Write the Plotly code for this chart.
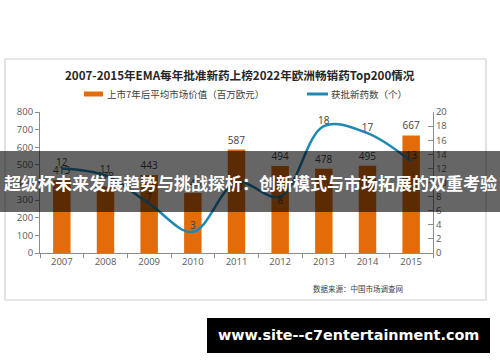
import plotly.graph_objects as go

years = ["2007", "2008", "2009", "2010", "2011", "2012", "2013", "2014", "2015"]
market_value = [413, 378, 443, 340, 587, 494, 478, 495, 667]
new_drugs = [12, 11, 7, 3, 10, 8, 18, 17, 13]
line_label_pos = ["top center", "top center", "top center", "top center", "bottom center",
                  "bottom center", "top center", "top center", "top center"]

title_text = "2007-2015年EMA每年批准新药上榜2022年欧洲畅销药Top200情况"
legend_bar = "上市7年后平均市场价值（百万欧元）"
legend_line = "获批新药数（个）"
source_text = "数据来源：中国市场调查网"
banner_text = "超级杯未来发展趋势与挑战探析：创新模式与市场拓展的双重考验"
site_text = "www.site--c7entertainment.com"

ORANGE = "#E36C0A"
BLUE = "#1F88B3"
TXT = "#404040"
AX = "#8C8C8C"
CJK = "Noto Sans CJK SC"

fig = go.Figure()
fig.add_trace(go.Bar(
    x=years, y=market_value, marker=dict(color=ORANGE, line=dict(width=0)),
    text=[str(v) for v in market_value], textposition="outside",
    textfont=dict(size=10, color=TXT, family="Open Sans"),
    cliponaxis=False, showlegend=False, yaxis="y",
))
fig.add_trace(go.Scatter(
    x=years, y=new_drugs, yaxis="y2", mode="lines+text",
    line=dict(color=BLUE, width=2.5, shape="spline", smoothing=1.0),
    text=[str(v) for v in new_drugs], textposition=line_label_pos,
    textfont=dict(size=10, color=TXT, family="Open Sans"),
    cliponaxis=False, showlegend=False,
))

tickfont = dict(size=9.5, color="#595959", family="Open Sans")
fig.update_layout(
    width=500, height=362,
    margin=dict(l=40, r=67, t=112, b=109),
    paper_bgcolor="white", plot_bgcolor="white",
    bargap=0.6,
    showlegend=False,
    xaxis=dict(type="category", showgrid=False, showline=True, linecolor=AX, linewidth=1,
               ticks="outside", ticklen=4, tickcolor=AX, tickson="boundaries",
               tickfont=tickfont, zeroline=False),
    yaxis=dict(range=[0, 800], dtick=100, showgrid=False, showline=True, linecolor=AX,
               ticks="outside", ticklen=4, tickcolor=AX, tickfont=tickfont, zeroline=False),
    yaxis2=dict(range=[0, 20], dtick=2, overlaying="y", side="right", showgrid=False,
                showline=True, linecolor=AX, ticks="inside", ticklen=5, tickcolor=AX,
                tickfont=tickfont, zeroline=False),
)

shapes = [
    # chart border
    dict(type="rect", xref="paper", yref="paper", x0=-35/393, x1=446/393,
         y0=(253-300)/141, y1=(253-59)/141, line=dict(color="#D0D0D0", width=1.2),
         fillcolor="rgba(0,0,0,0)", layer="below"),
    # legend markers
    dict(type="rect", xref="paper", yref="paper", x0=(84-40)/393, x1=(103-40)/393,
         y0=(253-96.5)/141, y1=(253-91.5)/141, fillcolor=ORANGE, line=dict(width=0)),
    dict(type="line", xref="paper", yref="paper", x0=(307-40)/393, x1=(328-40)/393,
         y0=(253-94)/141, y1=(253-94)/141, line=dict(color=BLUE, width=3)),
    # banner overlay
    dict(type="rect", xref="paper", yref="paper", x0=-40/393, x1=460/393,
         y0=(253-212)/141, y1=(253-151)/141, fillcolor="rgba(0,0,0,0.6)",
         line=dict(width=0), layer="above"),
    # site box
    dict(type="rect", xref="paper", yref="paper", x0=(207-40)/393, x1=(490-40)/393,
         y0=(253-353)/141, y1=(253-318)/141, fillcolor="black",
         line=dict(width=0), layer="above"),
]

def ann(text, x, y, size, color, bold=False, family=CJK, xanchor="center"):
    return dict(text=f"<b>{text}</b>" if bold else text, xref="paper", yref="paper",
                x=(x-40)/393, y=(253-y)/141, xanchor=xanchor, yanchor="middle",
                showarrow=False, font=dict(size=size, color=color, family=family))

annotations = [
    ann(title_text, 240, 75, 11.6, "#262626", bold=True),
    ann(legend_bar, 105, 94, 9.5, TXT, xanchor="left"),
    ann(legend_line, 329, 94, 9.5, TXT, xanchor="left"),
    ann(source_text, 358, 288, 7.5, TXT),
    ann(banner_text, 250, 182, 17, "white", bold=True),
    ann(site_text, 348, 335, 14.4, "white", bold=True, family="DejaVu Sans"),
]
fig.update_layout(shapes=shapes, annotations=annotations)

fig.write_html("out.html", config={"displayModeBar": False},
               post_script="document.body.style.margin='0';document.body.style.overflow='hidden';")
